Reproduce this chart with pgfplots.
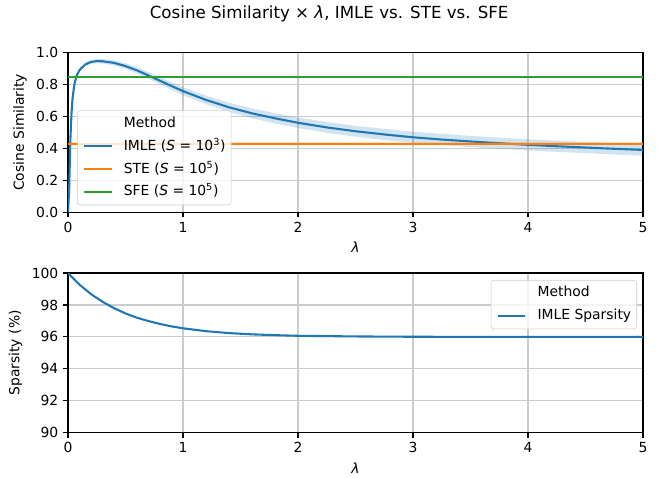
\documentclass[border=0pt]{standalone}
\usepackage{fontspec}
\setmainfont{DejaVu Sans}
\usepackage{pgfplots}
\usepackage{pgfplotstable}
\pgfplotsset{compat=1.18}

\definecolor{c0}{HTML}{1F77B4}
\definecolor{c1}{HTML}{FF7F0E}
\definecolor{c2}{HTML}{2CA02C}

% cosine similarity of IMLE (S=10^3), mean
\pgfplotstableread{
lam   mean
0     0.000
0.01  0.150
0.02  0.450
0.03  0.620
0.04  0.720
0.055 0.800
0.075 0.855
0.1   0.890
0.15  0.925
0.2   0.941
0.25  0.946
0.3   0.945
0.4   0.935
0.5   0.915
0.6   0.888
0.7   0.856
0.8   0.823
0.9   0.790
1.0   0.758
1.2   0.703
1.4   0.657
1.6   0.619
1.8   0.588
2.0   0.560
2.25  0.531
2.5   0.507
2.75  0.487
3.0   0.469
3.25  0.455
3.5   0.443
3.75  0.432
4.0   0.422
4.25  0.413
4.5   0.405
4.75  0.397
5.0   0.390
}\imle

% its band: upper edge out, lower edge back
\pgfplotstableread{
lam   v
0     0.000
0.01  0.160
0.02  0.460
0.03  0.630
0.04  0.730
0.055 0.810
0.075 0.865
0.1   0.900
0.15  0.936
0.2   0.953
0.25  0.959
0.3   0.959
0.4   0.951
0.5   0.933
0.6   0.908
0.7   0.877
0.8   0.845
0.9   0.814
1.0   0.783
1.2   0.730
1.4   0.686
1.6   0.650
1.8   0.620
2.0   0.593
2.25  0.565
2.5   0.541
2.75  0.522
3.0   0.504
3.25  0.490
3.5   0.478
3.75  0.467
4.0   0.457
4.25  0.448
4.5   0.440
4.75  0.433
5.0   0.426
5.0   0.354
4.75  0.361
4.5   0.370
4.25  0.378
4.0   0.387
3.75  0.397
3.5   0.408
3.25  0.420
3.0   0.434
2.75  0.452
2.5   0.473
2.25  0.497
2.0   0.527
1.8   0.556
1.6   0.588
1.4   0.628
1.2   0.676
1.0   0.733
0.9   0.766
0.8   0.801
0.7   0.835
0.6   0.868
0.5   0.897
0.4   0.919
0.3   0.931
0.25  0.933
0.2   0.929
0.15  0.914
0.1   0.880
0.075 0.845
0.055 0.790
0.04  0.710
0.03  0.610
0.02  0.440
0.01  0.140
0     0.000
}\imleband

\pgfplotstableread{
lam  v
0    0.438
5    0.438
5    0.418
0    0.418
}\steband

\pgfplotstableread{
lam  v
0    0.853
5    0.853
5    0.839
0    0.839
}\sfeband

% sparsity of IMLE (%)
\pgfplotstableread{
lam  sp
0    100.00
0.1  99.27
0.2  98.68
0.3  98.20
0.4  97.80
0.5  97.47
0.6  97.20
0.7  96.99
0.8  96.81
0.9  96.66
1.0  96.54
1.2  96.36
1.4  96.24
1.6  96.16
1.8  96.11
2.0  96.07
2.5  96.03
3.0  96.01
4.0  96.00
5.0  96.00
}\sparsity

\pgfplotsset{
  mpl/.style={
    scale only axis, width=414pt, height=115pt,
    xmin=0, xmax=5, xtick={0,1,2,3,4,5},
    grid=major, major grid style={gray!40, line width=0.8pt},
    axis line style={line width=0.8pt},
    tick align=outside, tick pos=left, major tick length=3.5pt,
    tick style={line width=0.8pt, black},
    /pgf/number format/assume math mode=true,
    tick label style={font=\fontsize{10}{12}\selectfont},
    label style={font=\fontsize{10}{12}\selectfont},
    xlabel={\textit{λ}},
    legend cell align=left,
    legend style={draw=gray!40, rounded corners=2pt, fill=white,
      fill opacity=0.8, text opacity=1, font=\fontsize{10}{12}\selectfont,
      inner sep=4pt, row sep=6pt, column sep=8pt,
      nodes={inner sep=0pt, text height=8pt, text depth=2.5pt}},
    legend image code/.code={\draw[#1] (0pt,0pt) -- (20pt,0pt);},
  },
}

\begin{document}
\begin{tikzpicture}
\node[font=\fontsize{12}{14}\selectfont] at (188pt,28pt)
  {Cosine Similarity × \textit{λ}, IMLE vs. STE vs. SFE};

\begin{axis}[mpl, at={(0pt,0pt)}, anchor=north west,
    ymin=0, ymax=1, ytick={0,0.2,0.4,0.6,0.8,1},
    yticklabel style={/pgf/number format/.cd, fixed, fixed zerofill, precision=1},
    ylabel={Cosine Similarity},
    legend style={at={(0,0)}, anchor=south west, xshift=6.5pt, yshift=5pt}]
\addlegendimage{empty legend}
\addlegendentry{Method}
\addplot[fill=c0, fill opacity=0.2, draw=none, forget plot] table[x=lam, y=v] {\imleband};
\addplot[c0, line width=1.5pt] table[x=lam, y=mean] {\imle};
\addlegendentry{IMLE (\textit{S} = 10\textsuperscript{3})}
\addplot[fill=c1, fill opacity=0.2, draw=none, forget plot] table[x=lam, y=v] {\steband};
\addplot[c1, line width=1.5pt] coordinates {(0,0.428) (5,0.428)};
\addlegendentry{STE (\textit{S} = 10\textsuperscript{5})}
\addplot[fill=c2, fill opacity=0.2, draw=none, forget plot] table[x=lam, y=v] {\sfeband};
\addplot[c2, line width=1.5pt] coordinates {(0,0.846) (5,0.846)};
\addlegendentry{SFE (\textit{S} = 10\textsuperscript{5})}
\end{axis}

\begin{axis}[mpl, at={(0pt,-158.8pt)}, anchor=north west,
    ymin=90, ymax=100, ytick={90,92,94,96,98,100},
    ylabel={Sparsity (\%)},
    legend style={at={(1,1)}, anchor=north east, xshift=-4.3pt, yshift=-5pt}]
\addlegendimage{empty legend}
\addlegendentry{Method}
\addplot[c0, line width=1.5pt] table[x=lam, y=sp] {\sparsity};
\addlegendentry{IMLE Sparsity}
\end{axis}
\useasboundingbox (-49pt,37.8pt) rectangle (424.8pt,-302.8pt);
\end{tikzpicture}
\end{document}
